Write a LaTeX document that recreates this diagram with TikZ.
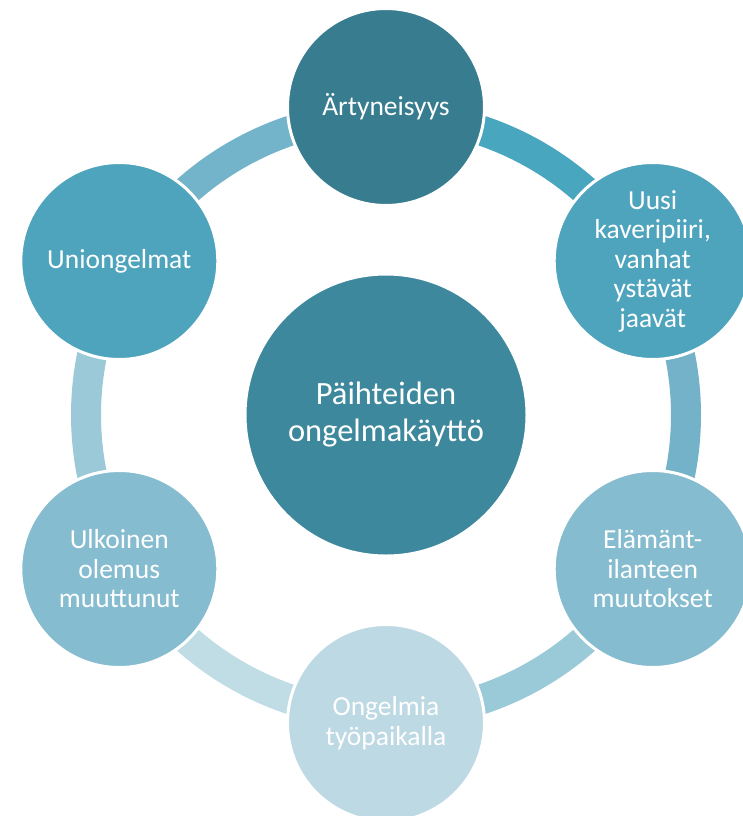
\documentclass[tikz,border=0pt]{standalone}
\usepackage{fontspec}
\setmainfont{Carlito}
\usepackage{tikz}
\usetikzlibrary{positioning}
\definecolor{cTop}{RGB}{55,124,143}
\definecolor{cHub}{RGB}{61,136,156}
\definecolor{cMid}{RGB}{79,164,189}
\definecolor{cLow}{RGB}{134,188,207}
\definecolor{cBot}{RGB}{189,217,227}
\definecolor{sA}{RGB}{72,166,190}
\definecolor{sB}{RGB}{115,178,201}
\definecolor{sC}{RGB}{154,201,216}
\definecolor{sD}{RGB}{192,220,229}
\definecolor{sE}{RGB}{156,201,216}
\definecolor{sF}{RGB}{115,180,202}
\tikzset{
  bubble/.style={circle, draw=white, line width=3pt, minimum size=197pt, inner sep=0pt,
    text=white, align=center, font=\fontsize{27.5}{29.5}\selectfont},
  hubble/.style={bubble, minimum size=282pt, font=\fontsize{32.5}{37}\selectfont},
  band/.style={line width=30pt}
}

\begin{document}
\begin{tikzpicture}[x=1pt,y=1pt,yscale=-1,xscale=1]
\useasboundingbox (0,0) rectangle (742,816);

%Shape: Circle (hub)
\node [hubble, fill=cHub] (hub) at (386,415) {Päihteiden\\ongelmakäyttö};

% ring segments
\draw [band, sA] (hub.center) ++(-90:300) arc [start angle=-90, end angle=-30, radius=300];
\draw [band, sB] (hub.center) ++(-30:300) arc [start angle=-30, end angle=30, radius=300];
\draw [band, sC] (hub.center) ++(30:300) arc [start angle=30, end angle=90, radius=300];
\draw [band, sD] (hub.center) ++(90:300) arc [start angle=90, end angle=150, radius=300];
\draw [band, sE] (hub.center) ++(150:300) arc [start angle=150, end angle=210, radius=300];
\draw [band, sF] (hub.center) ++(210:300) arc [start angle=210, end angle=270, radius=300];

%Shape: Circle
\node [bubble, fill=cTop] (artyn) at (386,107) {Ärtyneisyys};
%Shape: Circle
\node [bubble, fill=cMid] (kaveri) at (652.7,261) {Uusi\\kaveripiiri,\\vanhat\\ystävät\\jaavät};
%Shape: Circle
\node [bubble, fill=cLow] (elama) at (652.7,569) {Elämänt-\\ilanteen\\muutokset};
%Shape: Circle
\node [bubble, fill=cBot] (tyopaikka) at (386,723) {Ongelmia\\työpaikalla};
%Shape: Circle
\node [bubble, fill=cLow] (ulkoinen) at (119.3,569) {Ulkoinen\\olemus\\muuttunut};
%Shape: Circle
\node [bubble, fill=cMid] (unio) at (119.3,261) {Uniongelmat};

\end{tikzpicture}
\end{document}
